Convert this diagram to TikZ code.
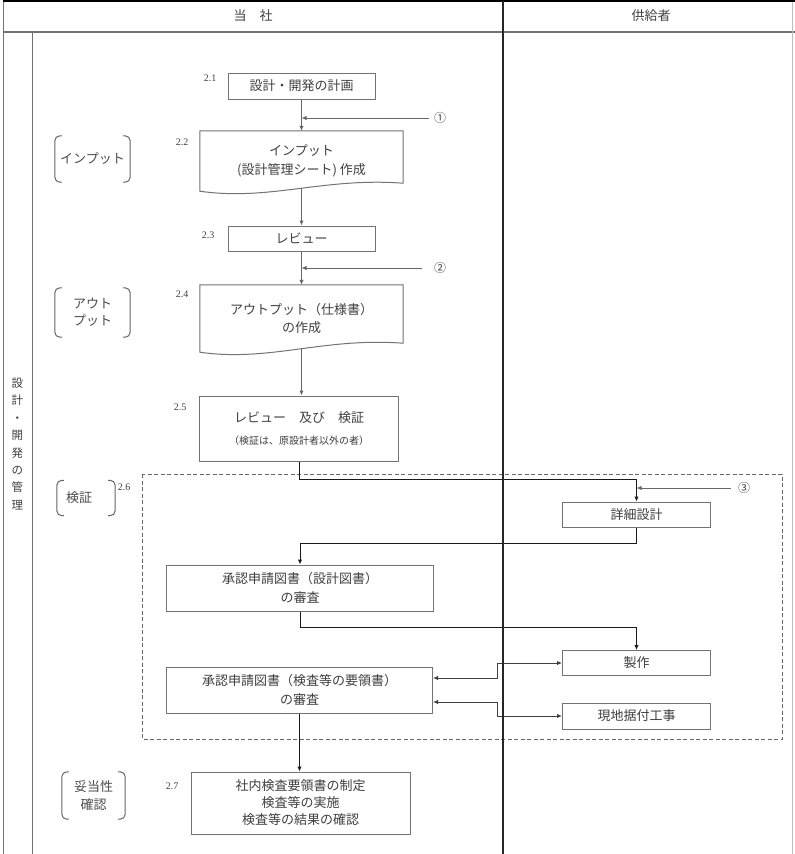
\documentclass[tikz,border=0pt]{standalone}
\usepackage{fontspec}
\setmainfont{Noto Sans CJK JP}
\newfontfamily\numfont{Liberation Serif}
\usetikzlibrary{arrows.meta,calc}
\newcommand\mainfs{\fontsize{13}{18.5}\selectfont}
\newcommand\drawbrackets[1]{%
  \draw[brline] ([xshift=7pt]#1.north west) -- (#1.north west) -- (#1.south west) -- ([xshift=7pt]#1.south west);
  \draw[brline] ([xshift=-7pt]#1.north east) -- (#1.north east) -- (#1.south east) -- ([xshift=-7pt]#1.south east);}
\begin{document}
\begin{tikzpicture}[x=1pt,y=-1pt,
  box/.style={draw=black!55, line width=1pt, fill=white, inner sep=0pt, align=center, font=\mainfs, text=black!75},
  doc/.style={inner sep=0pt, align=center, font=\mainfs, text=black!75},
  docline/.style={draw=black!55, line width=1pt},
  flow/.style={draw=black!60, line width=1pt, -{Latex[length=5pt,width=4.5pt]}},
  link/.style={draw=black!90, line width=1pt, -{Latex[length=5pt,width=4.5pt]}},
  link2/.style={draw=black!75, line width=1pt, {Latex[length=5pt,width=4.5pt]}-{Latex[length=5pt,width=4.5pt]}},
  num/.style={font=\numfont\fontsize{10}{11}\selectfont, text=black!75, inner sep=0pt},
  brk/.style={inner sep=0pt, align=center, font=\fontsize{13}{17}\selectfont, text=black!70},
  brline/.style={draw=black!60, line width=1pt, rounded corners=5pt},
  circ/.style={font=\fontsize{12}{12}\selectfont, text=black!75, inner sep=0pt},
  frame/.style={draw=black!55, line width=1pt}]

\useasboundingbox (0,0) rectangle (795,854);
\fill[white] (0,0) rectangle (795,854);

% frame
\draw[frame] (3,1) -- (3,854);
\draw[frame, line width=1.6pt] (3,32) -- (795,32);
\draw[frame] (32,32) -- (32,854);
\draw[black!25, line width=0.8pt] (792,1) -- (792,854);
\draw[black, line width=1.2pt] (3,1) -- (795,1);

% headers
\node[font=\mainfs, text=black!75] (h1) at (253,16) {当　社};
\node[font=\mainfs, text=black!75] (h2) at (651,16) {供給者};
\node[font=\fontsize{11.5}{17.4}\selectfont, align=center, text=black!75, inner sep=0pt] (side) at (17.5,444) {設\\計\\・\\開\\発\\の\\管\\理};

% group 2.6
\draw[black!60, line width=1pt, dash pattern=on 4pt off 2.5pt] (142,474) rectangle (782,739);

% boxes
\node[box, minimum width=147pt, minimum height=26pt] (n21) at (301.5,86) {設計・開発の計画};
\node[doc, minimum width=203pt, minimum height=60pt] (n22) at (301.5,161) {インプット\\(設計管理シート) 作成};
\node[box, minimum width=147pt, minimum height=25pt] (n23) at (301.5,238.5) {レビュー};
\node[doc, minimum width=203pt, minimum height=67pt] (n24) at (301.5,318.5) {アウトプット（仕様書）\\の作成};
\node[box, minimum width=199pt, minimum height=65pt] (n25) at (299,428.5) {レビュー　及び　検証\\[3pt]{\fontsize{10}{12}\selectfont （検証は、原設計者以外の者）}};
\node[box, minimum width=148pt, minimum height=25pt] (ndet) at (636.5,514.5) {詳細設計};
\node[box, minimum width=267pt, minimum height=46pt] (napp1) at (300,588) {承認申請図書（設計図書）\\の審査};
\node[box, minimum width=148pt, minimum height=25pt] (nmake) at (636.5,663) {製作};
\node[box, minimum width=266pt, minimum height=46pt] (napp2) at (299.5,690) {承認申請図書（検査等の要領書）\\の審査};
\node[box, minimum width=148pt, minimum height=26pt] (ninst) at (636.5,716) {現地据付工事};
\node[box, minimum width=219pt, minimum height=62pt, font=\fontsize{13}{17}\selectfont] (n27) at (300.5,803) {社内検査要領書の制定\\検査等の実施\\検査等の結果の確認};

% document outlines
\draw[docline] (n22.south west) -- (n22.north west) -- (n22.north east) -- ([yshift=8pt]n22.south east) .. controls ([xshift=-80pt,yshift=14pt]n22.south east) and ([xshift=70pt,yshift=-10pt]n22.south west) .. (n22.south west) -- cycle;
\draw[docline] (n24.south west) -- (n24.north west) -- (n24.north east) -- ([yshift=9pt]n24.south east) .. controls ([xshift=-80pt,yshift=15pt]n24.south east) and ([xshift=70pt,yshift=-10pt]n24.south west) .. (n24.south west) -- cycle;

% step numbers
\node[num] (l21) at (210,78) {2.1};
\node[num] (l22) at (182,142) {2.2};
\node[num] (l23) at (208,235) {2.3};
\node[num] (l24) at (182,294) {2.4};
\node[num] (l25) at (180,407) {2.5};
\node[num] (l26) at (124,487) {2.6};
\node[num] (l27) at (172,786) {2.7};

% brackets
\node[brk, minimum width=75pt, minimum height=46pt] (b1) at (92.5,159) {インプット};
\node[brk, minimum width=75pt, minimum height=49pt] (b2) at (92.5,312.5) {アウト\\プット};
\node[brk, minimum height=35pt, text width=40pt, inner xsep=9pt, align=left] (b3) at (86,498) {検証};
\node[brk, minimum width=63pt, minimum height=47pt, font=\fontsize{13}{18}\selectfont] (b4) at (93.5,795.5) {妥当性\\確認};
\drawbrackets{b1}
\drawbrackets{b2}
\drawbrackets{b3}
\drawbrackets{b4}

% inputs
\node[circ] (c1) at (440,118) {①};
\node[circ] (c2) at (440,268) {②};
\node[circ] (c3) at (744,488) {③};

% connectors
\draw[flow] (n21) -- (n22);
\draw[flow] ([xshift=-5pt]c1.west) -- (c1 -| n21.south);
\draw[flow] ([yshift=3pt]n22.south) -- (n23.north);
\draw[flow] (n23) -- (n24);
\draw[flow] ([xshift=-12pt]c2.west) -- (c2 -| n23.south);
\draw[flow] ([yshift=3pt]n24.south) -- (n24.south |- n25.north);
\draw[link] (n25.south) -- ++(0,18) -| (ndet.north);
\draw[flow] ([xshift=-7pt]c3.west) -- (c3 -| ndet.north);
\draw[link] (ndet.south) -- ++(0,16) -| (napp1.north);
\draw[link] (napp1.south) -- ++(0,16) -| (nmake.north);
\draw[link2] ([yshift=12pt]napp2.east) -- ++(64,0) |- (nmake.west);
\draw[link2] ([yshift=-12pt]napp2.east) -- ++(64,0) |- (ninst.west);
\draw[link] (napp2.south) -- (napp2.south |- n27.north);

% divider on top
\draw[black!85, line width=1.1pt] (503,1) -- (503,854);
\end{tikzpicture}
\end{document}
